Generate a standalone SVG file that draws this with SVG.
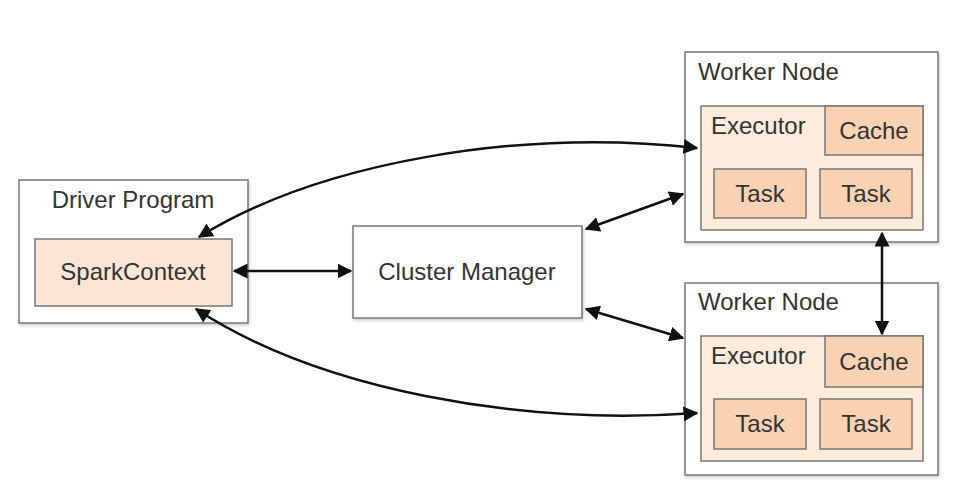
<svg xmlns="http://www.w3.org/2000/svg" width="967" height="483" viewBox="0 0 967 483">
<defs>
<marker id="ah" viewBox="0 0 10 10" refX="9" refY="5" markerWidth="6" markerHeight="6" orient="auto-start-reverse" markerUnits="strokeWidth">
<path d="M0,0 L10,5 L0,10 Z" fill="#111"/>
</marker>
<filter id="sh" x="-5%" y="-5%" width="115%" height="115%">
<feDropShadow dx="1" dy="2" stdDeviation="1.5" flood-color="#000" flood-opacity="0.18"/>
</filter>
</defs>
<style>
text{font-family:"Liberation Sans",Arial,sans-serif;font-size:24px;fill:#333}
.box{fill:#fff;stroke:#777;stroke-width:1.5}
.exe{fill:#fdebdc;stroke:#777;stroke-width:1.5}
.inner{fill:#f9d2b3;stroke:#777;stroke-width:1.5}
.sc{fill:#fbe6d6;stroke:#777;stroke-width:1.5}
.c{fill:none;stroke:#111;stroke-width:2.5;marker-start:url(#ah);marker-end:url(#ah)}
</style>
<rect width="967" height="483" fill="#fff"/>
<g id="driver">
<rect class="box" x="19" y="180" width="229" height="143" filter="url(#sh)"/>
<text x="133" y="208" text-anchor="middle">Driver Program</text>
<g id="sparkcontext">
<rect class="sc" x="35" y="239" width="197" height="67"/>
<text x="133" y="280" text-anchor="middle">SparkContext</text>
</g>
</g>
<g id="cluster-manager">
<rect class="box" x="353" y="226" width="229" height="92" filter="url(#sh)"/>
<text x="467" y="280" text-anchor="middle">Cluster Manager</text>
</g>
<g id="worker1">
<rect class="box" x="685" y="52" width="253" height="190" filter="url(#sh)"/>
<text x="698" y="80">Worker Node</text>
<g id="executor1">
<rect class="exe" x="701" y="106" width="222" height="124"/>
<text x="711" y="134">Executor</text>
<rect class="inner" x="825" y="106" width="98" height="49"/>
<text x="874" y="139" text-anchor="middle">Cache</text>
<rect class="inner" x="714" y="169" width="92" height="49"/>
<text x="760" y="202" text-anchor="middle">Task</text>
<rect class="inner" x="820" y="169" width="92" height="49"/>
<text x="866" y="202" text-anchor="middle">Task</text>
</g>
</g>
<g id="worker2">
<rect class="box" x="685" y="283" width="253" height="192" filter="url(#sh)"/>
<text x="698" y="310">Worker Node</text>
<g id="executor2">
<rect class="exe" x="701" y="336" width="222" height="125"/>
<text x="711" y="364">Executor</text>
<rect class="inner" x="825" y="336" width="98" height="51"/>
<text x="874" y="370" text-anchor="middle">Cache</text>
<rect class="inner" x="714" y="399" width="92" height="50"/>
<text x="760" y="432" text-anchor="middle">Task</text>
<rect class="inner" x="820" y="399" width="92" height="50"/>
<text x="866" y="432" text-anchor="middle">Task</text>
</g>
</g>
<g id="connectors">
<path class="c" d="M234 271 L351 271"/>
<path class="c" d="M199 237 C320 162 520 128 697 148"/>
<path class="c" d="M196 309 C320 390 520 426 697 413"/>
<path class="c" d="M586 229 L683 194"/>
<path class="c" d="M586 309 L683 338"/>
<path class="c" d="M882 233 L882 334"/>
</g>
</svg>
